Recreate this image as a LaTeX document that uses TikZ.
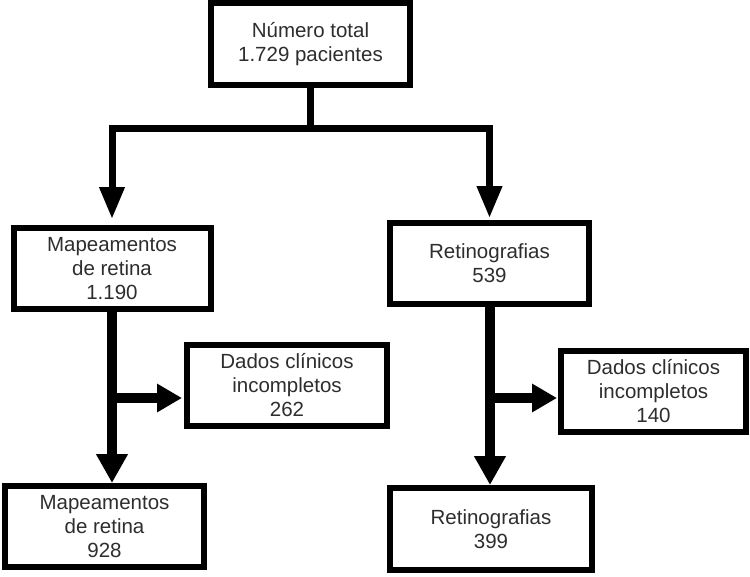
\documentclass[tikz,border=0pt]{standalone}
\usepackage{fontspec}
\setmainfont{Liberation Sans}
\usetikzlibrary{arrows.meta}
\tikzset{
  box/.style={draw=black, line width=6pt, fill=white, outer sep=0pt, inner sep=0pt,
    align=center, text=black!82, font=\fontsize{20.5}{24}\selectfont,
    minimum height=81pt},
  bus/.style={draw=black, line width=7pt},
  thick line/.style={draw=black, line width=10pt},
  tipA/.style={-{Triangle[length=32pt,width=24pt]}},
  tipB/.style={-{Triangle[length=29pt,width=30pt]}},
  tipC/.style={-{Triangle[length=25pt,width=27pt]}}
}
\begin{document}
\begin{tikzpicture}[x=1pt,y=-1pt]
\useasboundingbox (0,0) rectangle (750,576);
\node[box, minimum width=199pt, minimum height=82pt] (top) at (310.5,44) {Número total\\1.729 pacientes};
\node[box, minimum width=197pt] (l1) at (112,268.5) {Mapeamentos\\de retina\\1.190};
\node[box, minimum width=199pt] (r1) at (489.5,263.5) {Retinografias\\539};
\node[box, minimum width=200pt] (dl) at (287,385.5) {Dados clínicos\\incompletos\\262};
\node[box, minimum width=185pt] (dr) at (653.5,391.5) {Dados clínicos\\incompletos\\140};
\node[box, minimum width=199pt] (l2) at (104.5,526.5) {Mapeamentos\\de retina\\928};
\node[box, minimum width=202pt, minimum height=82pt] (r2) at (491,529) {Retinografias\\399};

\coordinate (bus) at (310.5,128);
\draw[bus, tipA, shorten >=9pt] (top.south) -- (bus) -| (l1.north);
\draw[bus, tipA, shorten >=5pt] (top.south) -- (bus) -| (r1.north);

\coordinate (jl) at (112,398);
\coordinate (jr) at (490,398);
\draw[thick line, tipB, shorten >=3pt] (l1.south) -- (l1.south |- l2.north);
\draw[thick line, tipC, shorten >=5pt] (jl) -- (jl -| dl.west);
\draw[thick line, tipB, shorten >=3pt] (r1.south -| jr) -- (jr |- r2.north);
\draw[thick line, tipC, shorten >=4pt] (jr) -- (jr -| dr.west);
\end{tikzpicture}
\end{document}
